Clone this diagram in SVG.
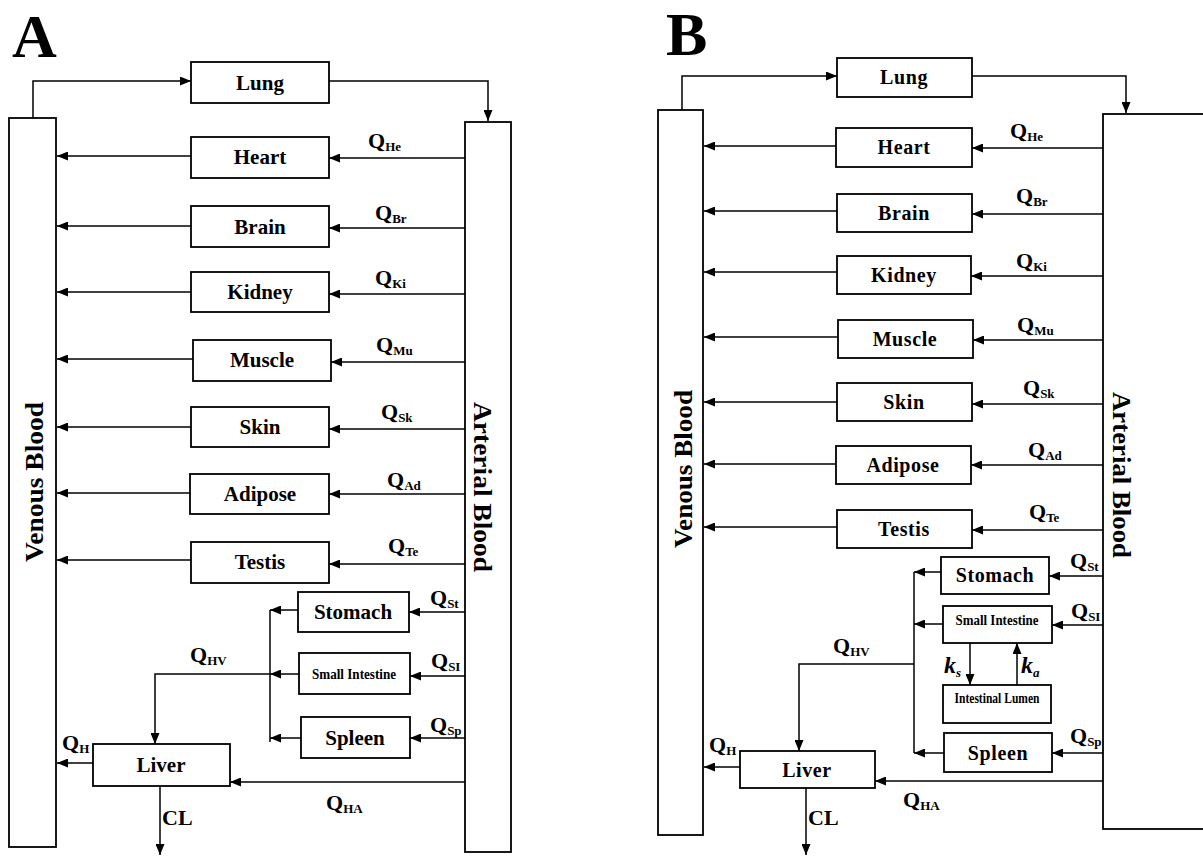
<svg xmlns="http://www.w3.org/2000/svg" width="1203" height="856" viewBox="0 0 1203 856">
<style>
.box{fill:#fff;stroke:#000;stroke-width:1.8}
.lbl{font-family:"Liberation Serif","Times New Roman",serif;font-weight:bold;font-size:21px;text-anchor:middle;fill:#000}
.lblb{font-family:"Liberation Serif","Times New Roman",serif;font-weight:bold;font-size:20px;text-anchor:middle;fill:#000;letter-spacing:0.6px}
.sm{font-family:"Liberation Serif","Times New Roman",serif;font-weight:bold;font-size:14px;text-anchor:middle;fill:#000}
.q{font-family:"Liberation Serif","Times New Roman",serif;font-weight:bold;font-size:22px;fill:#000}
.sub{font-size:13px}
.big{font-family:"Liberation Serif","Times New Roman",serif;font-weight:bold;font-size:26px;text-anchor:middle;fill:#000}
.panel{font-family:"Liberation Serif","Times New Roman",serif;font-weight:bold;font-size:62px;fill:#000}
.k{font-family:"Liberation Serif","Times New Roman",serif;font-weight:bold;font-style:italic;font-size:24px;fill:#000}
.c{fill:none;stroke:#000;stroke-width:1.5}
</style>
<defs>
<marker id="ah" markerUnits="userSpaceOnUse" markerWidth="11" markerHeight="9" refX="11" refY="4.5" orient="auto">
<path d="M0,0 L11,4.5 L0,9 z" fill="#000"/>
</marker>
</defs>
<rect width="1203" height="856" fill="#fff"/>

<text class="panel" x="12" y="57">A</text>
<text class="panel" x="666" y="55">B</text>

<!-- Panel A nodes -->
<g id="A-venous"><rect class="box" x="9" y="118" width="47" height="729"/><text class="big" transform="translate(43,482) rotate(-90)" textLength="160" lengthAdjust="spacingAndGlyphs">Venous Blood</text></g>
<g id="A-arterial"><rect class="box" x="465" y="122" width="46" height="730"/><text class="big" transform="translate(474,487) rotate(90)" textLength="170" lengthAdjust="spacingAndGlyphs">Arterial Blood</text></g>
<g id="A-lung"><rect class="box" x="191" y="62" width="138" height="41"/><text class="lbl" x="260" y="90">Lung</text></g>
<g id="A-heart"><rect class="box" x="191" y="137" width="138" height="41"/><text class="lbl" x="260" y="164">Heart</text></g>
<g id="A-brain"><rect class="box" x="191" y="206" width="138" height="41"/><text class="lbl" x="260" y="234">Brain</text></g>
<g id="A-kidney"><rect class="box" x="191" y="272" width="138" height="40"/><text class="lbl" x="260" y="299">Kidney</text></g>
<g id="A-muscle"><rect class="box" x="193" y="340" width="138" height="41"/><text class="lbl" x="262" y="367">Muscle</text></g>
<g id="A-skin"><rect class="box" x="191" y="407" width="138" height="40"/><text class="lbl" x="260" y="434">Skin</text></g>
<g id="A-adipose"><rect class="box" x="190" y="474" width="139" height="40"/><text class="lbl" x="260" y="501">Adipose</text></g>
<g id="A-testis"><rect class="box" x="191" y="542" width="138" height="41"/><text class="lbl" x="260" y="569">Testis</text></g>
<g id="A-stomach"><rect class="box" x="298" y="592" width="111" height="40"/><text class="lbl" x="353" y="619">Stomach</text></g>
<g id="A-si"><rect class="box" x="299" y="653" width="111" height="41"/><text class="sm" x="354" y="679" textLength="84" lengthAdjust="spacingAndGlyphs">Small Intestine</text></g>
<g id="A-spleen"><rect class="box" x="301" y="717" width="109" height="41"/><text class="lbl" x="355" y="745">Spleen</text></g>
<g id="A-liver"><rect class="box" x="93" y="744" width="137" height="42"/><text class="lbl" x="161" y="772">Liver</text></g>

<!-- Panel B nodes -->
<g id="B-venous"><rect class="box" x="658" y="110" width="45" height="725"/><text class="big" transform="translate(692,469) rotate(-90)" textLength="158" lengthAdjust="spacingAndGlyphs">Venous Blood</text></g>
<g id="B-arterial"><rect class="box" x="1103" y="114" width="110" height="715"/><text class="big" transform="translate(1113,475) rotate(90)" textLength="166" lengthAdjust="spacingAndGlyphs">Arterial Blood</text></g>
<g id="B-lung"><rect class="box" x="837" y="58" width="135" height="39"/><text class="lblb" x="904" y="84">Lung</text></g>
<g id="B-heart"><rect class="box" x="836" y="128" width="136" height="39"/><text class="lblb" x="904" y="154">Heart</text></g>
<g id="B-brain"><rect class="box" x="837" y="194" width="135" height="38"/><text class="lblb" x="904" y="220">Brain</text></g>
<g id="B-kidney"><rect class="box" x="837" y="256" width="134" height="38"/><text class="lblb" x="904" y="282">Kidney</text></g>
<g id="B-muscle"><rect class="box" x="838" y="320" width="135" height="38"/><text class="lblb" x="905" y="346">Muscle</text></g>
<g id="B-skin"><rect class="box" x="837" y="383" width="135" height="38"/><text class="lblb" x="904" y="409">Skin</text></g>
<g id="B-adipose"><rect class="box" x="836" y="446" width="135" height="38"/><text class="lblb" x="903" y="472">Adipose</text></g>
<g id="B-testis"><rect class="box" x="837" y="510" width="135" height="38"/><text class="lblb" x="904" y="536">Testis</text></g>
<g id="B-stomach"><rect class="box" x="941" y="557" width="108" height="37"/><text class="lblb" x="995" y="582">Stomach</text></g>
<g id="B-si"><rect class="box" x="943" y="606" width="109" height="37"/><text class="sm" x="997" y="625" textLength="83" lengthAdjust="spacingAndGlyphs">Small Intestine</text></g>
<g id="B-lumen"><rect class="box" x="943" y="685" width="108" height="38"/><text class="sm" x="997" y="703" textLength="85" lengthAdjust="spacingAndGlyphs">Intestinal Lumen</text></g>
<g id="B-spleen"><rect class="box" x="944" y="733" width="108" height="39"/><text class="lblb" x="998" y="760">Spleen</text></g>
<g id="B-liver"><rect class="box" x="740" y="751" width="135" height="37"/><text class="lblb" x="807" y="777">Liver</text></g>

<!-- Connectors -->
<g id="connectors" class="c" marker-end="url(#ah)">
<path d="M33,118 V81 H191"/>
<path d="M329,81 H488 V121"/>
<path d="M465,158 H329"/><path d="M191,156 H57"/>
<path d="M465,228 H329"/><path d="M191,226 H57"/>
<path d="M465,294 H329"/><path d="M191,292 H57"/>
<path d="M465,362 H331"/><path d="M193,359 H57"/>
<path d="M465,429 H329"/><path d="M191,427 H57"/>
<path d="M465,494 H329"/><path d="M190,493 H57"/>
<path d="M465,564 H329"/><path d="M191,560 H57"/>
<path d="M465,612 H409"/><path d="M298,610 H270"/>
<path d="M465,676 H410"/><path d="M299,674 H270"/>
<path d="M465,738 H410"/><path d="M301,738 H270"/>
<path d="M270,610 V742" marker-end="none"/>
<path d="M270,674 H155 V744"/>
<path d="M93,763 H57"/>
<path d="M465,782 H230"/>
<path d="M160,786 V855"/>

<path d="M682,110 V76 H837"/>
<path d="M972,76 H1126 V113"/>
<path d="M1103,148 H972"/><path d="M836,146 H704"/>
<path d="M1103,214 H972"/><path d="M837,211 H704"/>
<path d="M1103,276 H971"/><path d="M837,272 H704"/>
<path d="M1103,340 H973"/><path d="M838,337 H704"/>
<path d="M1103,404 H972"/><path d="M837,402 H704"/>
<path d="M1103,465 H971"/><path d="M836,464 H704"/>
<path d="M1103,530 H972"/><path d="M837,527 H704"/>
<path d="M1103,576 H1049"/><path d="M941,572 H914"/>
<path d="M1103,625 H1052"/><path d="M943,624 H914"/>
<path d="M1103,753 H1052"/><path d="M944,753 H914"/>
<path d="M914,572 V753" marker-end="none"/>
<path d="M970,643 V685"/>
<path d="M1017,685 V643"/>
<path d="M914,664 H799 V751"/>
<path d="M740,767 H704"/>
<path d="M1103,781 H875"/>
<path d="M806,788 V855"/>
</g>

<!-- Flow labels A -->
<g id="A-labels">
<text class="q" x="368" y="148">Q<tspan class="sub" dy="3">He</tspan></text>
<text class="q" x="375" y="220">Q<tspan class="sub" dy="3">Br</tspan></text>
<text class="q" x="375" y="285">Q<tspan class="sub" dy="3">Ki</tspan></text>
<text class="q" x="376" y="352">Q<tspan class="sub" dy="3">Mu</tspan></text>
<text class="q" x="381" y="419">Q<tspan class="sub" dy="3">Sk</tspan></text>
<text class="q" x="387" y="487">Q<tspan class="sub" dy="3">Ad</tspan></text>
<text class="q" x="388" y="553">Q<tspan class="sub" dy="3">Te</tspan></text>
<text class="q" x="430" y="605">Q<tspan class="sub" dy="3">St</tspan></text>
<text class="q" x="431" y="668">Q<tspan class="sub" dy="3">SI</tspan></text>
<text class="q" x="430" y="732">Q<tspan class="sub" dy="3">Sp</tspan></text>
<text class="q" x="190" y="662">Q<tspan class="sub" dy="3">HV</tspan></text>
<text class="q" x="62" y="750">Q<tspan class="sub" dy="3">H</tspan></text>
<text class="q" x="326" y="810">Q<tspan class="sub" dy="3">HA</tspan></text>
<text class="q" x="162" y="825">CL</text>
</g>
<!-- Flow labels B -->
<g id="B-labels">
<text class="q" x="1010" y="138">Q<tspan class="sub" dy="3">He</tspan></text>
<text class="q" x="1016" y="203">Q<tspan class="sub" dy="3">Br</tspan></text>
<text class="q" x="1016" y="268">Q<tspan class="sub" dy="3">Ki</tspan></text>
<text class="q" x="1017" y="332">Q<tspan class="sub" dy="3">Mu</tspan></text>
<text class="q" x="1023" y="395">Q<tspan class="sub" dy="3">Sk</tspan></text>
<text class="q" x="1028" y="457">Q<tspan class="sub" dy="3">Ad</tspan></text>
<text class="q" x="1029" y="519">Q<tspan class="sub" dy="3">Te</tspan></text>
<text class="q" x="1070" y="568">Q<tspan class="sub" dy="3">St</tspan></text>
<text class="q" x="1071" y="618">Q<tspan class="sub" dy="3">SI</tspan></text>
<text class="q" x="1070" y="743">Q<tspan class="sub" dy="3">Sp</tspan></text>
<text class="q" x="833" y="653">Q<tspan class="sub" dy="3">HV</tspan></text>
<text class="q" x="709" y="752">Q<tspan class="sub" dy="3">H</tspan></text>
<text class="q" x="903" y="807">Q<tspan class="sub" dy="3">HA</tspan></text>
<text class="q" x="808" y="825">CL</text>
<text class="k" x="944" y="673">k<tspan class="sub" dy="4" font-size="15">s</tspan></text>
<text class="k" x="1021" y="673">k<tspan class="sub" dy="4" font-size="15">a</tspan></text>
</g>
</svg>
